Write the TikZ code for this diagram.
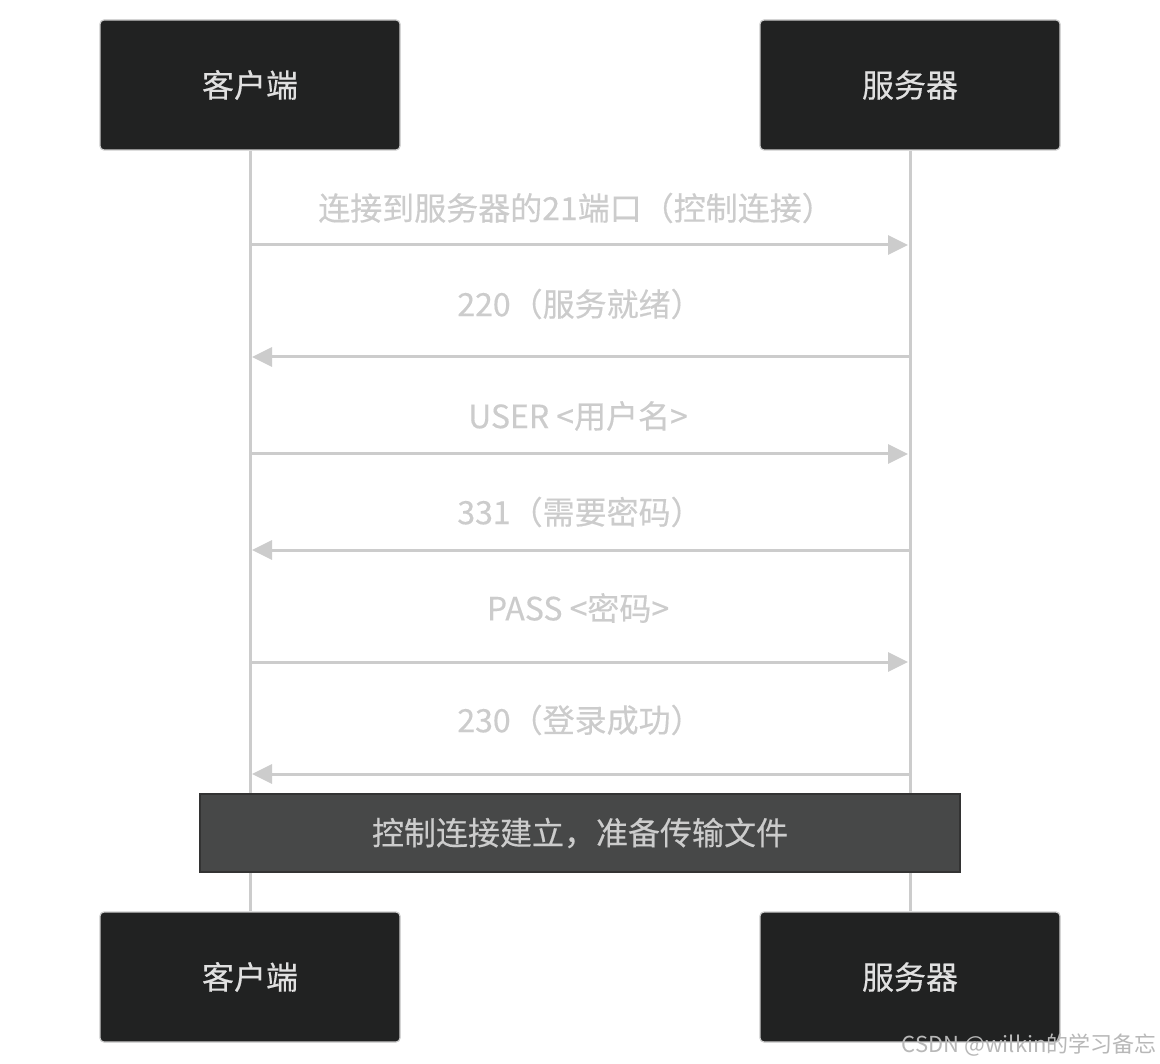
\documentclass[tikz,border=0pt]{standalone}
\usepackage{fontspec}
\setmainfont{Noto Sans CJK SC}
\newfontfamily\medfont{Noto Sans CJK SC}[FakeBold=0.35]
\usetikzlibrary{arrows.meta}
\definecolor{linegray}{HTML}{CCCCCC}
\definecolor{boxfill}{HTML}{212222}
\definecolor{notefill}{HTML}{474848}
\definecolor{notedraw}{HTML}{333333}
\definecolor{msgtext}{HTML}{CCCCCC}
\definecolor{actortext}{HTML}{E0E0E0}
\definecolor{marktext}{HTML}{B8B8B8}
\begin{document}
\begin{tikzpicture}[x=1pt,y=-1pt,
  actor/.style={draw=linegray, line width=1.2pt, fill=boxfill, rounded corners=4pt,
    minimum width=300pt, minimum height=130pt, inner sep=0pt,
    text=actortext, font=\medfont\fontsize{32}{38}\selectfont},
  lifeline/.style={draw=linegray, line width=3pt},
  msg/.style={draw=linegray, line width=3pt, -{Triangle[length=20pt,width=19pt]}, shorten >=2pt},
  msglabel/.style={text=msgtext, font=\medfont\fontsize{32}{38}\selectfont, inner sep=0pt},
  notebox/.style={draw=notedraw, line width=1.2pt, fill=notefill,
    minimum width=760pt, minimum height=78pt, inner sep=0pt,
    text=msgtext, font=\medfont\fontsize{32}{38}\selectfont},
  watermark/.style={text=marktext, font=\fontsize{22}{26}\selectfont, inner sep=0pt}
]
\useasboundingbox[fill=white] (0,0) rectangle (1160,1064);

\node[actor] (cTop) at (250,85) {客户端};
\node[actor] (sTop) at (910,85) {服务器};
\node[actor] (cBot) at (250,977) {客户端};
\node[actor] (sBot) at (910,977) {服务器};
% lifelines
\draw[lifeline] (cTop.south) -- (cBot.north);
\draw[lifeline] (sTop.south) -- (sBot.north);

% message anchors
\coordinate (c1) at (250,245); \coordinate (s1) at (910,245);
\coordinate (c2) at (250,357); \coordinate (s2) at (910,357);
\coordinate (c3) at (250,454); \coordinate (s3) at (910,454);
\coordinate (c4) at (250,550); \coordinate (s4) at (910,550);
\coordinate (c5) at (250,662); \coordinate (s5) at (910,662);
\coordinate (c6) at (250,774); \coordinate (s6) at (910,774);

\draw[msg] (c1) -- (s1);
\node[msglabel] (l1) at (576,208) {连接到服务器的21端口（控制连接）};
\draw[msg] (s2) -- (c2);
\node[msglabel] (l2) at (580,304) {220（服务就绪）};
\draw[msg] (c3) -- (s3);
\node[msglabel] (l3) at (578,416) {USER <用户名>};
\draw[msg] (s4) -- (c4);
\node[msglabel] (l4) at (580,512) {331（需要密码）};
\draw[msg] (c5) -- (s5);
\node[msglabel] (l5) at (578,608) {PASS <密码>};
\draw[msg] (s6) -- (c6);
\node[msglabel] (l6) at (580,720) {230（登录成功）};

\node[notebox] (note) at (580,833) {控制连接建立，准备传输文件};

\node[watermark, anchor=south east] (wm) at (1157,1057) {CSDN @wilkin的学习备忘};
\end{tikzpicture}
\end{document}
